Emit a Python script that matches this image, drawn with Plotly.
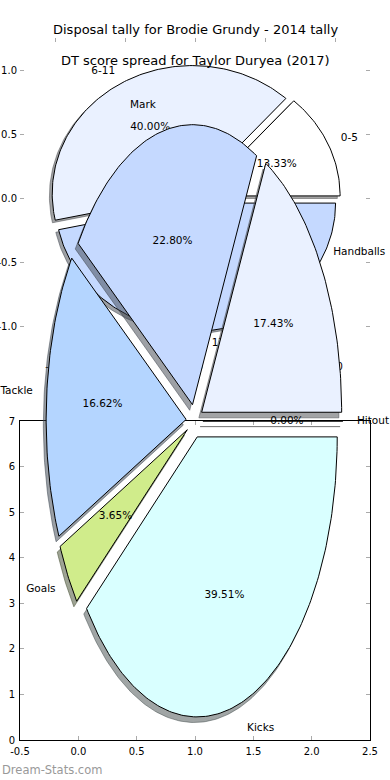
import numpy as np
import plotly.graph_objects as go

# ---------------- data ----------------
dt_labels = ["0-5", "6-11", "17+"]
dt_values = [2, 6, 7]

disp_labels = ["Hitout", "Handballs", "Mark", "Tackle", "Goals", "Kicks"]
disp_values = [0.00, 17.43, 22.80, 16.62, 3.65, 39.51]

dt_ticks = [-1.0, -0.5, 0.0, 0.5, 1.0]
bottom_xticks = [-0.5, 0.0, 0.5, 1.0, 1.5, 2.0, 2.5]
bottom_yticks = [0, 1, 2, 3, 4, 5, 6, 7]

title_disp = "Disposal tally for Brodie Grundy - 2014 tally"
title_dt = "DT score spread for Taylor Duryea (2017)"
watermark = "Dream-Stats.com"

# ---------------- styling ----------------
W, H = 390, 780
FONT = "DejaVu Sans"
slice_colors = ["#ffffff", "#eaf1ff", "#c5d9ff", "#b4d5ff", "#d0ec8b", "#d9ffff"]
TICK_GRAY = "#aaaaaa"
LABEL_SIZE = 10.5


def hex_rgb(h):
    h = h.lstrip("#")
    return tuple(int(h[i:i + 2], 16) for i in (0, 2, 4))


def pie_traces(values, labels, colors, explode, xa, ya):
    total = float(sum(values))
    shadows, bodies, texts = [], [], []
    start = 0.0
    for v, lab, col in zip(values, labels, colors):
        frac = v / total
        t1, t2 = start, start + 360.0 * frac
        start = t2
        mid = np.deg2rad(0.5 * (t1 + t2))
        ox, oy = explode * np.cos(mid), explode * np.sin(mid)
        n = max(2, int(np.ceil(abs(t2 - t1))) + 1)
        ang = np.deg2rad(np.linspace(t1, t2, n))
        xs = np.concatenate([[ox], ox + np.cos(ang), [ox]])
        ys = np.concatenate([[oy], oy + np.sin(ang), [oy]])
        r, g, b = hex_rgb(col)
        sh = f"rgba({0.3 * r:.0f},{0.3 * g:.0f},{0.3 * b:.0f},0.5)"
        shadows.append(go.Scatter(
            x=xs - 0.02, y=ys - 0.02, mode="lines", fill="toself",
            fillcolor=sh, line=dict(color=sh, width=1),
            xaxis=xa, yaxis=ya, hoverinfo="skip", showlegend=False))
        bodies.append(go.Scatter(
            x=xs, y=ys, mode="lines", fill="toself", fillcolor=col,
            line=dict(color="black", width=1),
            xaxis=xa, yaxis=ya, hoverinfo="skip", showlegend=False))
        lx, ly = ox + 1.1 * np.cos(mid), oy + 1.1 * np.sin(mid)
        texts.append(go.Scatter(
            x=[lx], y=[ly], mode="text", text=[lab],
            textposition="middle right" if lx > 0 else "middle left",
            textfont=dict(family=FONT, size=LABEL_SIZE, color="black"),
            cliponaxis=False, xaxis=xa, yaxis=ya, hoverinfo="skip",
            showlegend=False))
        qx, qy = ox + 0.6 * np.cos(mid), oy + 0.6 * np.sin(mid)
        texts.append(go.Scatter(
            x=[qx], y=[qy], mode="text", text=[f"{100 * frac:.2f}%"],
            textposition="middle center",
            textfont=dict(family=FONT, size=LABEL_SIZE, color="black"),
            cliponaxis=False, xaxis=xa, yaxis=ya, hoverinfo="skip",
            showlegend=False))
    return shadows + bodies + texts


fig = go.Figure()

# DT score spread pie (first axes)
for t in pie_traces(dt_values, dt_labels, slice_colors[:3], 0.04, "x", "y"):
    fig.add_trace(t)

# empty trace so the lower axes exists
fig.add_trace(go.Scatter(x=[], y=[], xaxis="x2", yaxis="y2", showlegend=False))

# Disposal tally pie (overlay axes, drawn on top)
for t in pie_traces(disp_values, disp_labels, slice_colors, 0.06, "x3", "y3"):
    fig.add_trace(t)

tick_common = dict(ticks="inside", ticklen=4, tickwidth=1, tickcolor=TICK_GRAY,
                   showgrid=False, zeroline=False, automargin=False,
                   tickfont=dict(family=FONT, size=10, color="black"))


def fmt1(vals):
    return [f"{v:.1f}" for v in vals]


# pixel geometry of the overlay pie
CX, CY, RX, RY = 194.5, 421.0, 140.0, 280.0

fig.update_layout(
    template="none",
    width=W, height=H, autosize=False,
    margin=dict(l=0, r=0, t=0, b=0, pad=0),
    paper_bgcolor="white", plot_bgcolor="rgba(0,0,0,0)",
    font=dict(family=FONT, size=10, color="black"),
    showlegend=False,
    xaxis=dict(domain=[20 / W, 370 / W], range=[-1.25, 1.25], anchor="y",
               tickvals=dt_ticks, ticktext=fmt1(dt_ticks), mirror="ticks",
               showline=False, ticklabelstandoff=1, **tick_common),
    yaxis=dict(domain=[1 - 358 / H, 1 - 38 / H], range=[-1.25, 1.25], anchor="x",
               tickvals=dt_ticks, ticktext=fmt1(dt_ticks), mirror="ticks",
               showline=False, ticklabelstandoff=2, **tick_common),
    xaxis2=dict(domain=[20 / W, 370 / W], range=[-0.5, 2.5], anchor="y2",
                tickvals=bottom_xticks, ticktext=fmt1(bottom_xticks), mirror="ticks",
                showline=True, linecolor="black", linewidth=1,
                ticklabelstandoff=2, **tick_common),
    yaxis2=dict(domain=[1 - 740 / H, 1 - 421 / H], range=[0, 7], anchor="x2",
                tickvals=bottom_yticks, mirror="ticks",
                showline=True, linecolor="black", linewidth=1,
                ticklabelstandoff=2, **tick_common),
    xaxis3=dict(domain=[0, 1], range=[-CX / RX, (W - CX) / RX], anchor="y3",
                visible=False, showgrid=False, zeroline=False, automargin=False),
    yaxis3=dict(domain=[0, 1], range=[-(H - CY) / RY, CY / RY], anchor="x3",
                visible=False, showgrid=False, zeroline=False, automargin=False),
    annotations=[
        dict(text=title_disp, x=195 / W, y=1 - 30 / H, xref="paper", yref="paper",
             xanchor="center", yanchor="middle", showarrow=False,
             font=dict(family=FONT, size=13, color="black")),
        dict(text=title_dt, x=195 / W, y=1 - 61 / H, xref="paper", yref="paper",
             xanchor="center", yanchor="middle", showarrow=False,
             font=dict(family=FONT, size=13, color="black")),
        dict(text=watermark, x=0, y=1 - 770 / H, xref="paper", yref="paper",
             xanchor="left", yanchor="middle", showarrow=False,
             font=dict(family=FONT, size=11.5, color="#999999")),
    ],
)

fig.write_html(
    "out.html",
    config={"displayModeBar": False},
    post_script="document.body.style.margin='0px';document.body.style.padding='0px';",
)
